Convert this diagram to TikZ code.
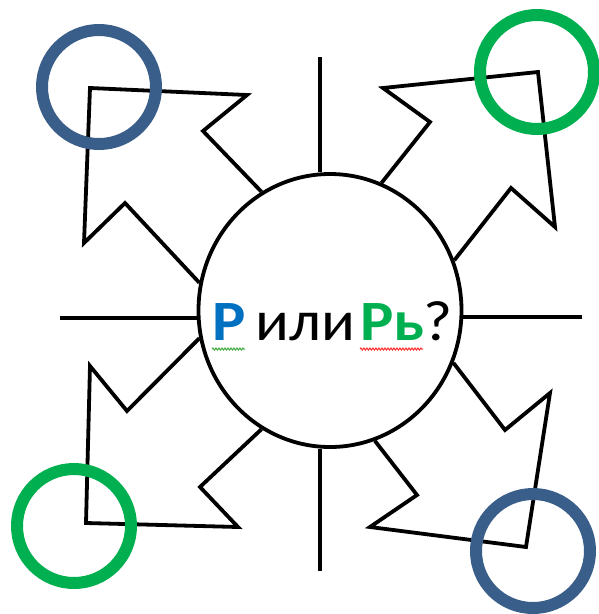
\documentclass[tikz,border=0pt]{standalone}
\usepackage{fontspec}
\setmainfont{Carlito}
\newfontfamily\wfont[FakeStretch=1.1]{Carlito}
\usetikzlibrary{shapes.geometric,decorations.pathmorphing}
\definecolor{ringblue}{RGB}{58,94,138}
\definecolor{ringgreen}{RGB}{0,176,80}
\definecolor{txtblue}{RGB}{0,112,192}
\definecolor{txtgreen}{RGB}{0,176,80}
\definecolor{wavered}{RGB}{255,40,40}
\definecolor{wavegreen}{RGB}{60,170,60}
\tikzset{
  stroke/.style={line width=3.8pt, line join=miter, black},
  ring/.style={circle, draw, line width=12pt, minimum size=114pt, inner sep=0pt},
  wavy/.style={line width=1pt, decorate, decoration={snake, amplitude=1pt, segment length=3pt}},
  word/.style={anchor=base west, inner sep=0pt, font=\wfont\fontsize{57}{64}\selectfont},
}
\begin{document}
\begin{tikzpicture}[x=1pt,y=-1pt]
\useasboundingbox (0,0) rectangle (598,614);
% centre circle
\node[ellipse, draw, stroke, fill=white, minimum width=263pt, minimum height=273pt, inner sep=0pt] (c) at (330,310.5) {};
% straight rays
\coordinate (tl) at (320,57);
\coordinate (bl) at (320,571);
\coordinate (ll) at (60,318);
\coordinate (rl) at (582,317);
\draw[stroke] (tl) -- (tl |- c.north);
\draw[stroke] (bl) -- (bl |- c.south);
\draw[stroke] (ll) -- (ll -| c.west);
\draw[stroke] (rl) -- (rl -| c.east);
% arrows
\draw[stroke] (c.120.9) -- (203,131) -- (247,95) -- (90,88) -- (84,243) -- (125,203) -- (c.168.1);
\draw[stroke] (c.68.7) -- (430,122) -- (383,88) -- (538,72) -- (555,227) -- (511,188) -- (c.22);
\draw[stroke] (c.337.6) -- (505,430) -- (550,393) -- (526,547) -- (370,527) -- (417,495) -- (c.289.8);
\draw[stroke] (c.192.8) -- (127,411) -- (90,366) -- (86,523) -- (238,527) -- (200,487) -- (c.240.6);
% text
\node[word, text=txtblue] (t1) at (212,340) {\bfseries Р};
\node[word] (t2) at (255,340) {или};
\node[word, text=txtgreen] (t3) at (360,340) {\bfseries Рь};
\node[word] (t4) at (423,340) {?};
\coordinate (w1a) at (212,349);
\coordinate (w1b) at (245,349);
\coordinate (w2a) at (360,349);
\coordinate (w2b) at (423,349);
\draw[wavy, wavegreen] (w1a) -- (w1b);
\draw[wavy, wavered] (w2a) -- (w2b);
% rings
\node[ring, draw=ringblue] (r1) at (99,87) {};
\node[ring, draw=ringgreen] (r2) at (537,72) {};
\node[ring, draw=ringgreen] (r3) at (74,526) {};
\node[ring, draw=ringblue] (r4) at (533,551) {};
\end{tikzpicture}
\end{document}
